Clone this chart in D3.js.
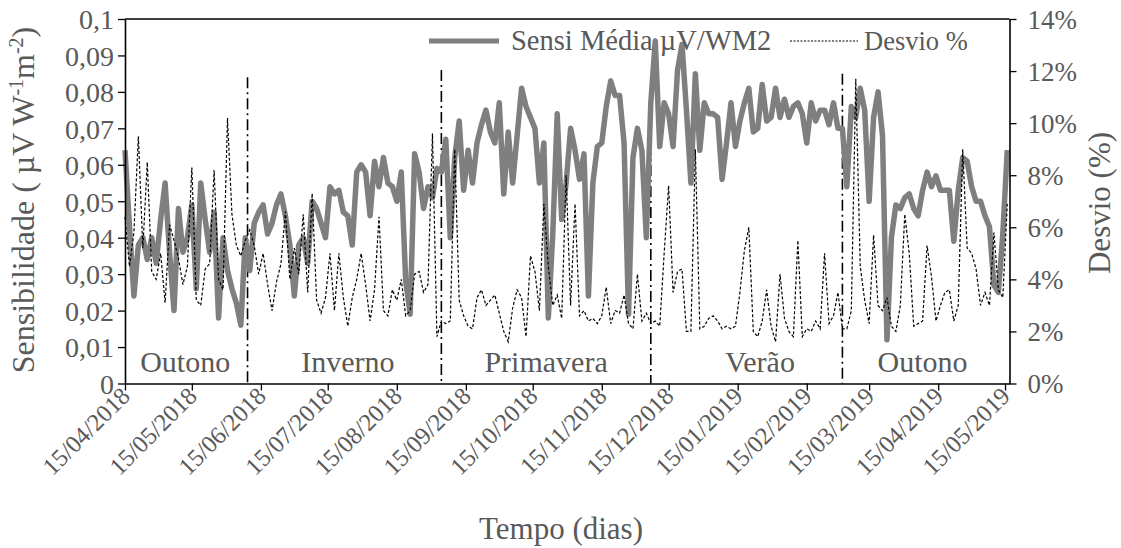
<!DOCTYPE html>
<html><head><meta charset="utf-8">
<script src="https://cdnjs.cloudflare.com/ajax/libs/d3/7.8.5/d3.min.js"></script>
<style>
html,body{margin:0;padding:0;background:#fff;}
svg text{font-family:"Liberation Serif","Times New Roman",serif;fill:#595959;}
</style></head>
<body>
<svg id="chart" width="1121" height="548"></svg>
<script>
// ---------- data (sampled every 2 days from 15/04/2018) ----------
const startDate = "2018-04-15";
const stepDays = 2;
const sensValues = [
0.064,0.043,0.024,0.038,0.040,0.034,0.040,0.033,0.045,0.055,
0.036,0.020,0.048,0.036,0.040,0.049,0.026,0.055,0.045,0.036,
0.047,0.018,0.040,0.031,0.026,0.022,0.016,0.040,0.031,0.044,
0.047,0.049,0.041,0.044,0.049,0.052,0.046,0.038,0.024,0.038,
0.040,0.033,0.050,0.048,0.044,0.040,0.054,0.052,0.053,0.047,
0.046,0.038,0.058,0.060,0.058,0.046,0.061,0.054,0.062,0.055,
0.054,0.050,0.058,0.028,0.019,0.063,0.058,0.048,0.054,0.051,
0.059,0.058,0.067,0.040,0.062,0.072,0.053,0.064,0.055,0.066,
0.071,0.075,0.069,0.066,0.077,0.052,0.069,0.055,0.068,0.081,
0.076,0.073,0.070,0.055,0.066,0.018,0.041,0.074,0.045,0.055,
0.070,0.064,0.056,0.063,0.024,0.055,0.065,0.066,0.076,0.083,
0.079,0.079,0.066,0.019,0.062,0.070,0.064,0.040,0.077,0.094,
0.065,0.077,0.074,0.065,0.086,0.093,0.075,0.055,0.085,0.064,
0.077,0.074,0.074,0.073,0.056,0.066,0.077,0.065,0.072,0.077,
0.081,0.069,0.070,0.082,0.072,0.073,0.081,0.073,0.078,0.073,
0.076,0.077,0.074,0.066,0.077,0.072,0.075,0.075,0.071,0.077,
0.070,0.070,0.054,0.076,0.073,0.081,0.075,0.050,0.073,0.080,
0.068,0.012,0.040,0.049,0.048,0.051,0.052,0.048,0.046,0.053,
0.058,0.054,0.057,0.053,0.053,0.053,0.039,0.053,0.062,0.061,
0.054,0.050,0.050,0.046,0.043,0.027,0.025,0.041,0.064
];
const desvioValues = [
6.4,4.5,5.8,9.5,5.2,8.5,4.3,4.0,5.0,3.1,
6.1,5.5,4.8,3.8,4.5,8.3,3.2,3.0,4.4,4.6,
8.2,4.0,3.6,10.2,6.5,5.3,4.9,5.5,5.9,5.3,
4.2,5.0,3.8,2.8,3.9,4.6,6.6,4.0,5.2,4.2,
6.5,3.5,7.3,3.2,2.7,3.3,5.0,2.8,5.0,3.3,
2.2,3.3,4.0,5.0,3.8,2.4,3.6,6.4,2.8,2.6,
3.6,3.2,4.0,2.6,2.8,4.2,4.3,3.5,3.8,9.6,
1.8,2.4,2.3,2.4,9.0,3.2,2.6,2.2,2.1,3.3,
3.6,3.0,3.2,3.4,2.7,2.0,1.6,2.9,3.6,3.3,
1.8,4.9,4.3,2.8,6.9,4.5,3.0,3.4,2.5,8.0,
3.0,6.9,2.6,2.8,2.4,2.5,2.3,2.6,3.7,2.3,
2.8,2.7,3.4,2.3,2.1,4.2,2.4,2.7,2.3,2.4,
2.2,5.0,7.6,3.5,4.3,4.4,2.0,2.0,9.0,2.1,
2.2,2.5,2.6,2.4,2.1,2.2,2.1,2.2,3.5,5.1,
6.0,2.0,1.8,2.4,3.6,2.2,1.6,4.2,2.5,2.0,
1.8,5.5,1.8,2.1,2.0,2.4,2.1,5.0,2.3,2.6,
3.5,2.1,2.1,2.8,11.7,4.5,3.2,2.3,5.7,3.0,
2.8,3.3,2.2,2.0,3.0,6.5,5.0,2.2,2.3,2.4,
5.3,4.1,2.4,3.0,3.5,3.6,2.4,3.0,9.0,5.2,
5.0,4.4,3.0,3.5,3.0,5.8,3.6,3.3,6.9
];
const xTickLabels = ["15/04/2018","15/05/2018","15/06/2018","15/07/2018","15/08/2018",
  "15/09/2018","15/10/2018","15/11/2018","15/12/2018","15/01/2019","15/02/2019",
  "15/03/2019","15/04/2019","15/05/2019"];
const yLeftTicks = [0,0.01,0.02,0.03,0.04,0.05,0.06,0.07,0.08,0.09,0.1];
const yRightTicks = [0,2,4,6,8,10,12,14];
const seasonNames = ["Outono","Inverno","Primavera","Verão","Outono"];
const seasonLabelDates = ["2018-05-12","2018-07-24","2018-10-21","2019-01-25","2019-04-08"];
const dividerDates = ["2018-06-09","2018-09-04","2018-12-07","2019-03-03"];
const dividerTops = [0.084,0.086,0.083,0.085];

// ---------- build ----------
const parse = d3.timeParse("%Y-%m-%d");
const parseTick = d3.timeParse("%d/%m/%Y");
const t0 = parse(startDate);
const rows = sensValues.map((v,i)=>({date:d3.timeDay.offset(t0,i*stepDays), sens:v, desvio:desvioValues[i]}));

const svg = d3.select("#chart");
const L=125, R=1009.5, T=19, B=383.5;
const x = d3.scaleTime().domain([t0, parse("2019-05-17")]).range([L,R]);
const y = d3.scaleLinear().domain([0,0.1]).range([B,T]);
const y2 = d3.scaleLinear().domain([0,14]).range([B,T]);

// season dividers
const dash = svg.append("g");
dividerDates.forEach((d,i)=>{
  dash.append("line").attr("x1",x(parse(d))).attr("x2",x(parse(d)))
    .attr("y1",y(dividerTops[i])).attr("y2",B)
    .attr("stroke","#000").attr("stroke-width",1.6).attr("stroke-dasharray","11,4,2,4");
});

// series
svg.append("path").datum(rows)
  .attr("d", d3.line().x(d=>x(d.date)).y(d=>y(d.sens)))
  .attr("fill","none").attr("stroke","#7f7f7f").attr("stroke-width",5.5).attr("stroke-linejoin","round");
svg.append("path").datum(rows)
  .attr("d", d3.line().x(d=>x(d.date)).y(d=>y2(d.desvio)))
  .attr("fill","none").attr("stroke","#000").attr("stroke-width",1.2).attr("stroke-dasharray","3,2");

// season labels
seasonNames.forEach((s,i)=>{
  svg.append("text").attr("x",x(parse(seasonLabelDates[i]))).attr("y",372)
    .attr("text-anchor","middle").style("font-size","30px").text(s);
});

// axes
const fmtL = d => d===0 ? "0" : d3.format(".2~f")(d).replace(".",",");
const gl = svg.append("g").attr("transform",`translate(${L},0)`)
  .call(d3.axisLeft(y).tickValues(yLeftTicks).tickFormat(fmtL).tickSize(7).tickSizeOuter(0));
const gr = svg.append("g").attr("transform",`translate(${R},0)`)
  .call(d3.axisRight(y2).tickValues(yRightTicks).tickFormat(d=>d+"%").tickSize(7).tickSizeOuter(0));
const gb = svg.append("g").attr("transform",`translate(0,${B})`)
  .call(d3.axisBottom(x).tickValues(xTickLabels.map(parseTick)).tickFormat(d3.timeFormat("%d/%m/%Y")).tickSize(7).tickSizeOuter(0));
[gl,gr,gb].forEach(g=>{
  g.selectAll("path.domain").attr("stroke","#000").attr("stroke-width",1.6);
  g.selectAll(".tick line").attr("stroke","#000").attr("stroke-width",1.3);
  g.selectAll("text").style("font-family","'Liberation Serif',serif").style("fill","#595959");
});
gl.selectAll("text").style("font-size","28px").attr("x",-11).attr("dy","0.35em");
gr.selectAll("text").style("font-size","27px").attr("x",18).attr("dy","0.35em");
gb.selectAll("text").style("font-size","24.5px")
  .attr("text-anchor","end").attr("dy",null).attr("y",0)
  .attr("transform","translate(6,14) rotate(-45)");
// top border
svg.append("line").attr("x1",L).attr("x2",R).attr("y1",T).attr("y2",T).attr("stroke","#000").attr("stroke-width",1.6);

// axis titles
const lt = svg.append("text").attr("transform","translate(34,200) rotate(-90)").attr("text-anchor","middle").style("font-size","32px");
lt.append("tspan").text("Sensibilidade ( µV W");
lt.append("tspan").attr("dy",-11).style("font-size","20px").text("-1");
lt.append("tspan").attr("dy",11).text("m");
lt.append("tspan").attr("dy",-11).style("font-size","20px").text("-2");
lt.append("tspan").attr("dy",11).text(")");
svg.append("text").attr("transform","translate(1110,203) rotate(-90)").attr("text-anchor","middle").style("font-size","31px").text("Desvio (%)");
svg.append("text").attr("x",561).attr("y",539).attr("text-anchor","middle").style("font-size","31px").text("Tempo (dias)");

// legend
svg.append("line").attr("x1",429).attr("x2",499).attr("y1",41).attr("y2",41).attr("stroke","#7f7f7f").attr("stroke-width",5);
svg.append("text").attr("x",511).attr("y",50).style("font-size","28.5px").text("Sensi Média µV/WM2");
svg.append("line").attr("x1",790).attr("x2",858).attr("y1",41).attr("y2",41).attr("stroke","#000").attr("stroke-width",1.2).attr("stroke-dasharray","2,1.5");
svg.append("text").attr("x",864).attr("y",50).style("font-size","26.5px").text("Desvio %");
</script>
</body></html>
